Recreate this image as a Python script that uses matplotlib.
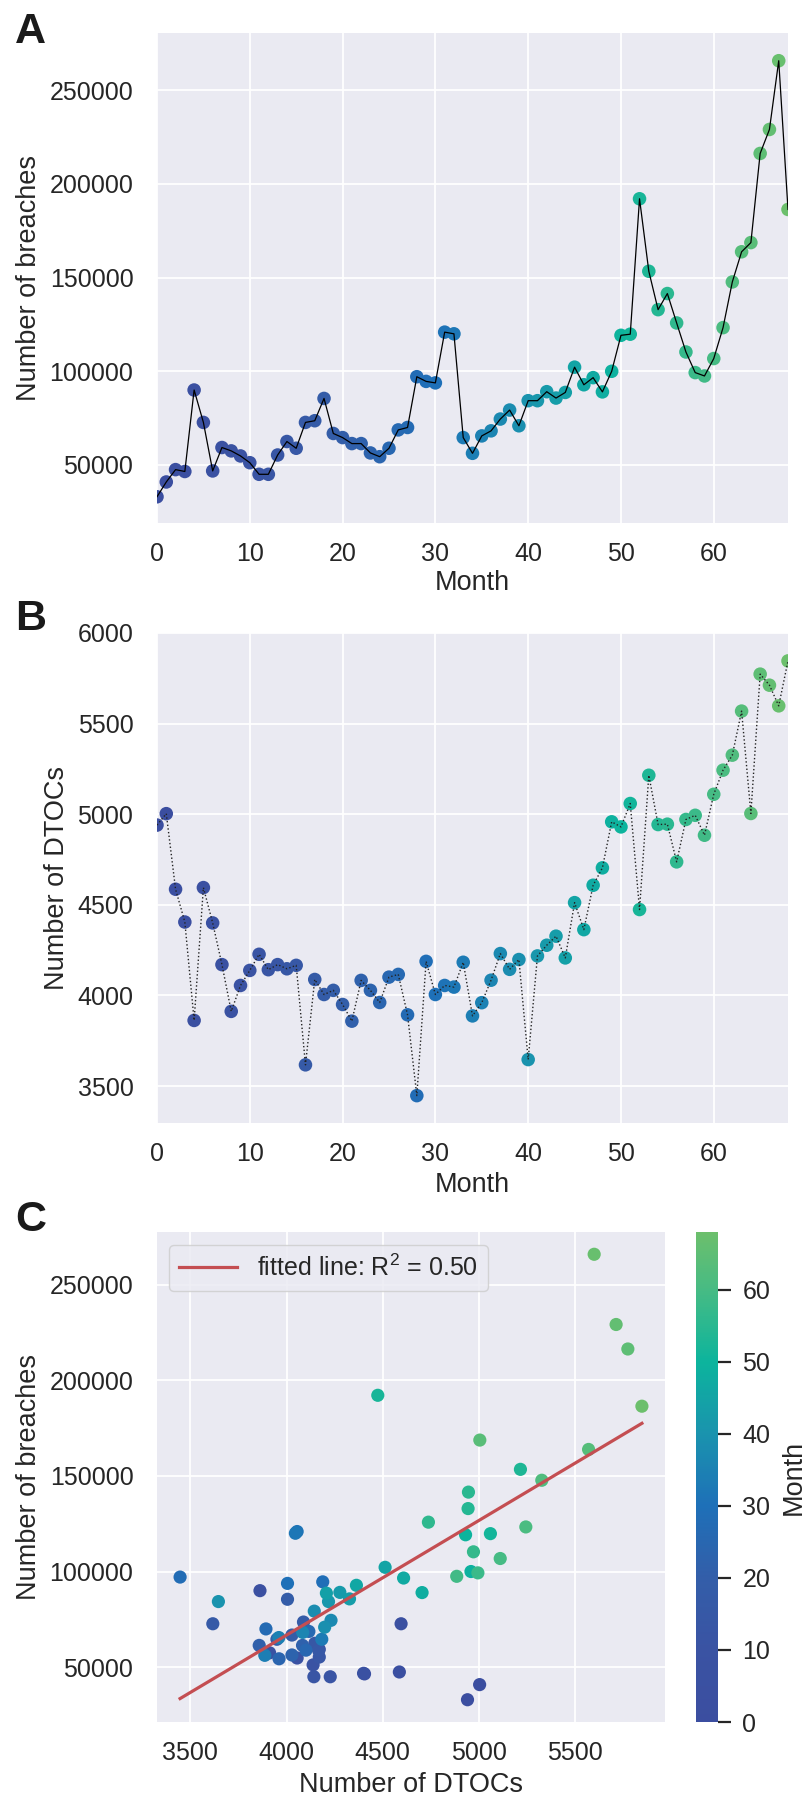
import numpy as np
import matplotlib
matplotlib.use("Agg")
import matplotlib.pyplot as plt
from matplotlib.colors import LinearSegmentedColormap

# ---------------- data ----------------
months = list(range(69))

breaches = [33000, 40900, 47500, 46500, 90000, 72700, 46800, 59300, 57500, 54800,
            51200, 45000, 45000, 55300, 62500, 58900, 72700, 73600, 85500, 66800,
            64600, 61400, 61400, 56400, 54400, 58900, 68700, 70000, 97100, 94600,
            93800, 120900, 120000, 64600, 56200, 65500, 68200, 74500, 79300, 70900,
            84300, 84300, 89100, 85700, 88700, 102200, 92800, 96600, 89000, 100000,
            119200, 119800, 192100, 153400, 132900, 141500, 125800, 110300, 99300, 97500,
            106800, 123300, 147700, 163800, 168700, 216300, 229100, 265800, 186400]

dtocs = [4940, 5003, 4586, 4405, 3862, 4595, 4400, 4170, 3912, 4055,
         4138, 4227, 4142, 4170, 4147, 4166, 3617, 4088, 4005, 4028,
         3950, 3858, 4083, 4028, 3961, 4101, 4116, 3893, 3447, 4188,
         4005, 4055, 4046, 4183, 3887, 3960, 4084, 4231, 4144, 4198,
         3646, 4218, 4277, 4327, 4207, 4512, 4363, 4608, 4704, 4958,
         4930, 5059, 4474, 5215, 4943, 4945, 4737, 4971, 4994, 4884,
         5110, 5243, 5326, 5569, 5004, 5773, 5712, 5598, 5846]

month_ticks = [0, 10, 20, 30, 40, 50, 60]
breach_ticks = [50000, 100000, 150000, 200000, 250000]
dtoc_ticks_b = [3500, 4000, 4500, 5000, 5500, 6000]
dtoc_ticks_c = [3500, 4000, 4500, 5000, 5500]
cbar_ticks = [0, 10, 20, 30, 40, 50, 60]
legend_label = "fitted line: R$^{2}$ = 0.50"

# ---------------- style ----------------
TXT = "#262626"
BG = "#EAEAF2"
plt.rcParams.update({
    "font.family": ["Liberation Sans", "DejaVu Sans"],
    "mathtext.fontset": "custom",
    "mathtext.rm": "Liberation Sans",
    "mathtext.it": "Liberation Sans:italic",
    "mathtext.bf": "Liberation Sans:bold",
    "text.color": TXT,
    "axes.labelcolor": TXT,
    "xtick.color": TXT,
    "ytick.color": TXT,
})

cmap_stops = [0.0, 10 / 68, 20 / 68, 30 / 68, 40 / 68, 50 / 68, 60 / 68, 1.0]
cmap_hex = ["#3b4ea0", "#3a53a3", "#335ea9", "#1e70b8", "#1a93ae", "#0cb49d", "#46bb84", "#6cbf6c"]
cmap = LinearSegmentedColormap.from_list("month_cmap", list(zip(cmap_stops, cmap_hex)))

W, H = 804, 1803
fig = plt.figure(figsize=(W / 100, H / 100), dpi=100)


def rect(l, t, r, b):
    return [l / W, 1 - b / H, (r - l) / W, (b - t) / H]


def style_axes(ax):
    ax.set_facecolor(BG)
    for s in ax.spines.values():
        s.set_visible(False)
    ax.grid(True, color="white", linewidth=1.3)
    ax.set_axisbelow(True)
    ax.tick_params(length=0, labelsize=18)
    ax.tick_params(axis="x", pad=13.5)
    ax.tick_params(axis="y", pad=17)


# ---------------- panel A ----------------
axA = fig.add_axes(rect(157, 33, 788, 523))
style_axes(axA)
axA.scatter(months, breaches, c=months, cmap=cmap, vmin=0, vmax=68, s=95,
            linewidths=0, zorder=2)
axA.plot(months, breaches, color="black", lw=0.9, zorder=3)
axA.set_xlim(0, 68)
axA.set_ylim(19000, 280600)
axA.set_xticks(month_ticks)
axA.set_yticks(breach_ticks)
axA.set_xlabel("Month", fontsize=19.5)
axA.xaxis.set_label_coords(0.5, -0.096)
axA.set_ylabel("Number of breaches", fontsize=19.5)
axA.yaxis.set_label_coords(-0.182, 0.5)

# ---------------- panel B ----------------
axB = fig.add_axes(rect(157, 633, 788, 1123))
style_axes(axB)
axB.scatter(months, dtocs, c=months, cmap=cmap, vmin=0, vmax=68, s=95,
            linewidths=0, zorder=2)
axB.plot(months, dtocs, color="#222222", lw=1.0, ls=":", zorder=3)
axB.set_xlim(0, 68)
axB.set_ylim(3296, 6000)
axB.set_xticks(month_ticks)
axB.set_yticks(dtoc_ticks_b)
axB.set_xlabel("Month", fontsize=19.5)
axB.xaxis.set_label_coords(0.5, -0.1)
axB.set_ylabel("Number of DTOCs", fontsize=19.5)
axB.yaxis.set_label_coords(-0.138, 0.5)

# ---------------- panel C ----------------
axC = fig.add_axes(rect(157, 1232, 665, 1722))
style_axes(axC)
sc = axC.scatter(dtocs, breaches, c=months, cmap=cmap, vmin=0, vmax=68, s=90,
                 linewidths=0, zorder=2)
coef = np.polyfit(dtocs, breaches, 1)
xs = np.array([min(dtocs), max(dtocs)])
axC.plot(xs, np.polyval(coef, xs), color="#C44E52", lw=2.3, zorder=3, label=legend_label)
axC.set_xticks(dtoc_ticks_c)
axC.set_yticks(breach_ticks)
axC.set_xlabel("Number of DTOCs", fontsize=19.5)
axC.xaxis.set_label_coords(0.5, -0.102)
axC.set_ylabel("Number of breaches", fontsize=19.5)
axC.yaxis.set_label_coords((42 - 157) / 508, 0.5)
leg = axC.legend(loc="upper left", fontsize=18, handlelength=2.3, handletextpad=0.8,
                 borderaxespad=0.5, frameon=True, fancybox=True)
leg.get_frame().set_facecolor(BG)
leg.get_frame().set_edgecolor("0.8")
leg.get_frame().set_alpha(0.8)

cax = fig.add_axes(rect(696, 1232, 718, 1722))
cb = fig.colorbar(sc, cax=cax, ticks=cbar_ticks)
cb.outline.set_visible(False)
cax.tick_params(length=9, width=1.6, color=TXT, labelsize=18, pad=8.5)
cax.set_ylabel("Month", fontsize=19.5)
cax.yaxis.set_label_coords(3.85, 0.5)

# ---------------- panel letters ----------------
for letter, base in (("A", 43), ("B", 630), ("C", 1231)):
    fig.text(15 / W, 1 - base / H, letter, fontsize=31, fontweight="bold",
             ha="left", va="baseline", color="#1a1a1a")

fig.savefig("out.png", dpi=100)
